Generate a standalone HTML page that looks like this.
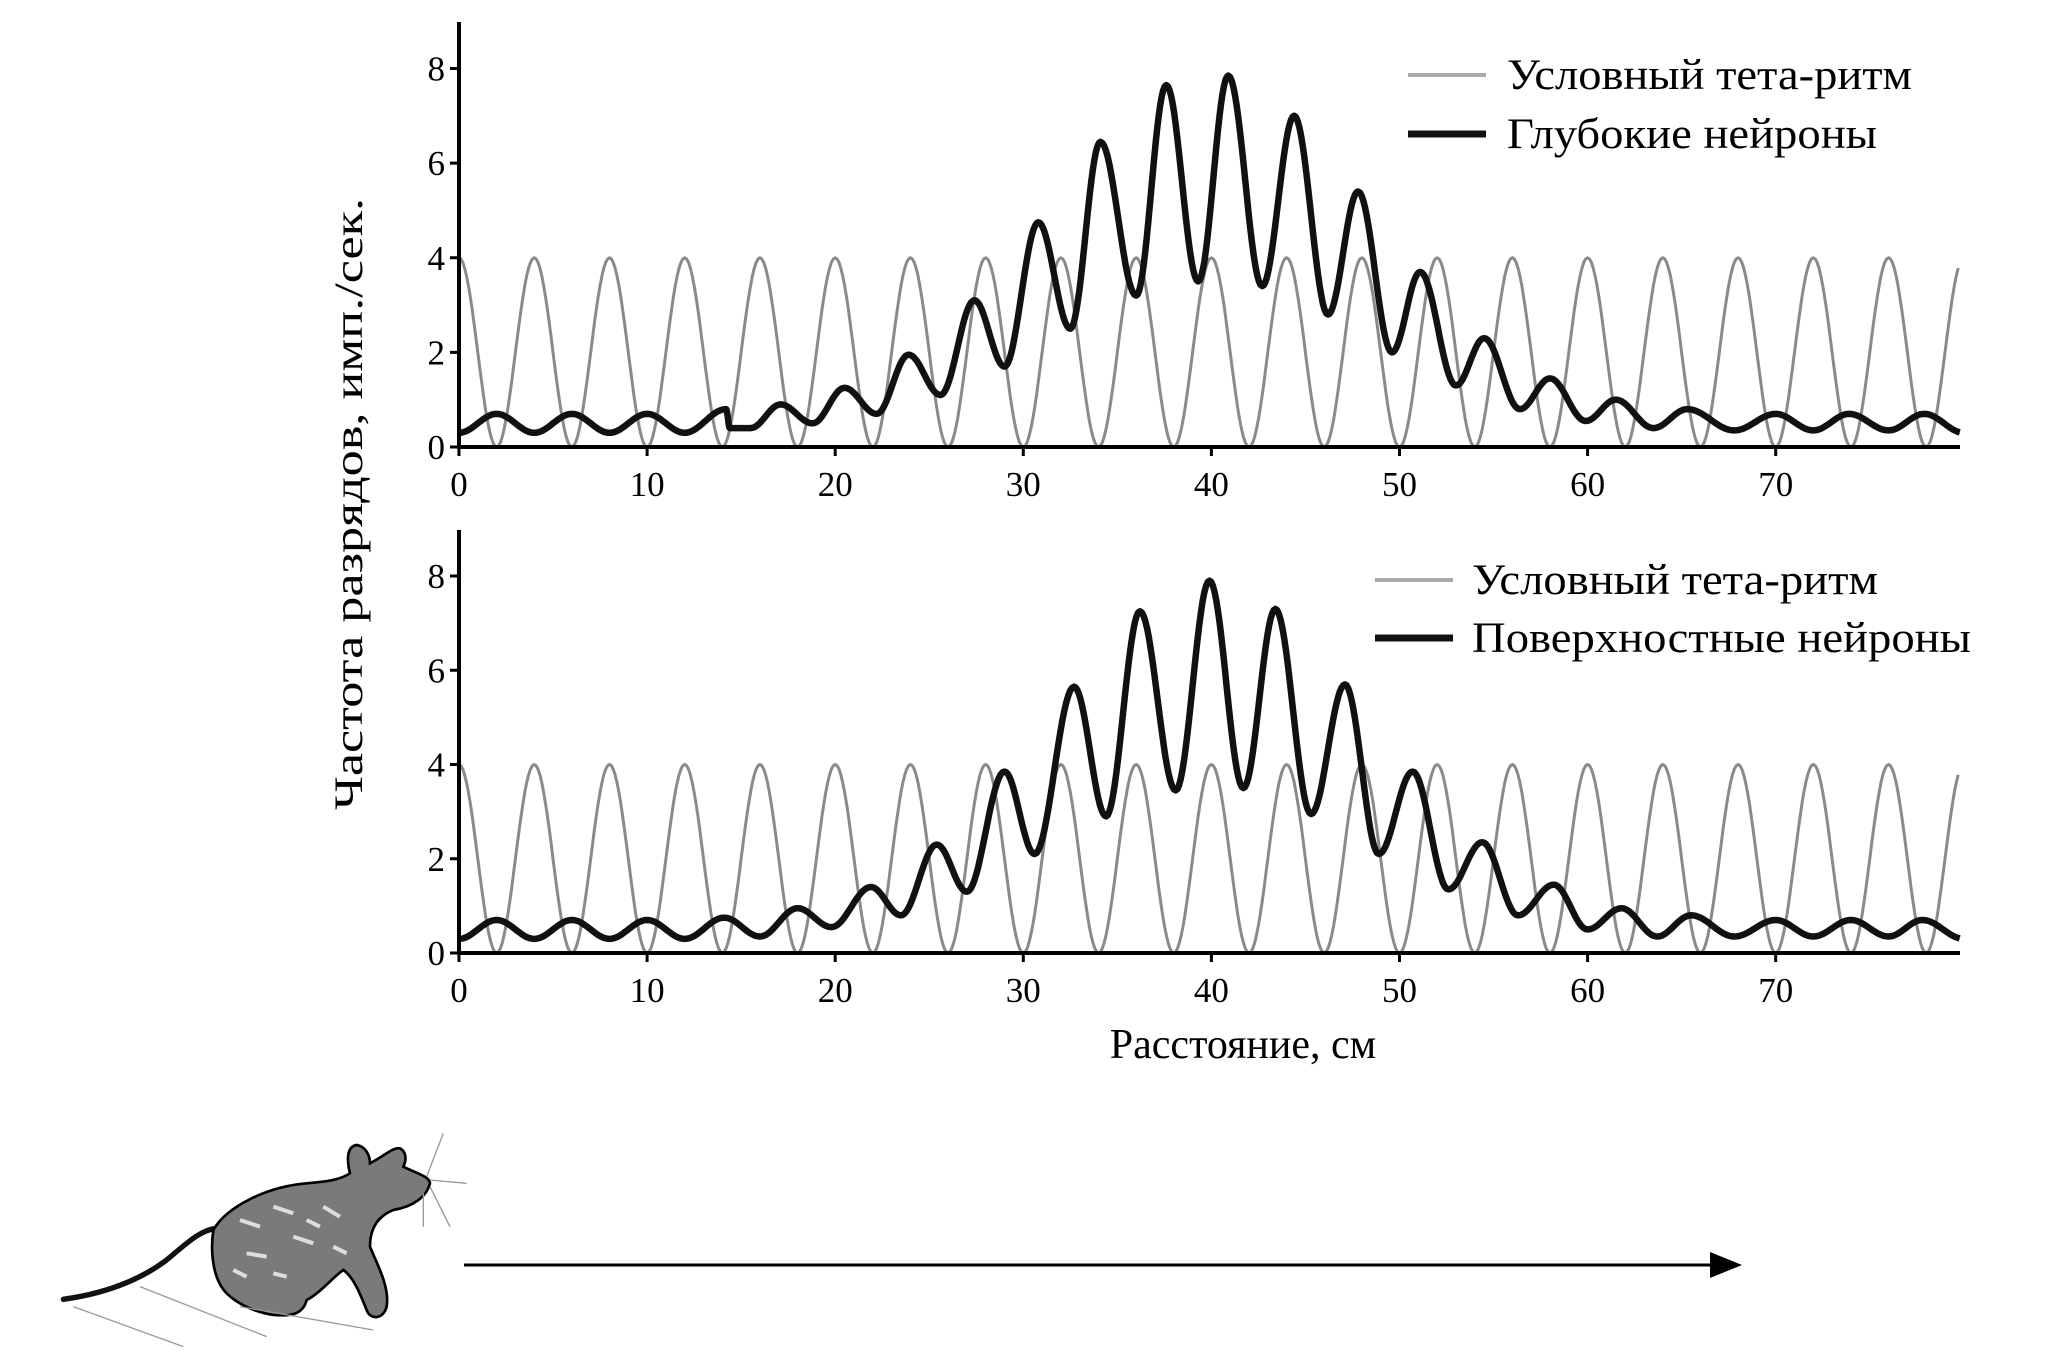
<!DOCTYPE html>
<html><head><meta charset="utf-8"><style>
html,body{margin:0;padding:0;background:#fff;}
svg{display:block;font-family:"Liberation Serif","DejaVu Serif",serif;}
</style></head><body>
<svg id="chart" width="2067" height="1368" viewBox="0 0 2067 1368" xmlns="http://www.w3.org/2000/svg">
<g id="top"></g>
<g id="bot"></g>
<text x="0" y="0" transform="translate(362,504) rotate(-90)" text-anchor="middle" font-size="40" textLength="612" lengthAdjust="spacingAndGlyphs">Частота разрядов, имп./сек.</text>
<text x="1243" y="1058" text-anchor="middle" font-size="42">Расстояние, см</text>
<g>
<line x1="1408" y1="75" x2="1486" y2="75" stroke="#aaa" stroke-width="4"/>
<text x="1507" y="89" font-size="43" textLength="405" lengthAdjust="spacingAndGlyphs">Условный тета-ритм</text>
<line x1="1408" y1="134" x2="1486" y2="134" stroke="#111" stroke-width="7"/>
<text x="1507" y="148" font-size="43" textLength="370" lengthAdjust="spacingAndGlyphs">Глубокие нейроны</text>
</g>
<g>
<line x1="1375" y1="580" x2="1453" y2="580" stroke="#aaa" stroke-width="4"/>
<text x="1472" y="594" font-size="43" textLength="406" lengthAdjust="spacingAndGlyphs">Условный тета-ритм</text>
<line x1="1375" y1="638" x2="1453" y2="638" stroke="#111" stroke-width="7"/>
<text x="1472" y="652" font-size="43" textLength="499" lengthAdjust="spacingAndGlyphs">Поверхностные нейроны</text>
</g>
<g>
<line x1="464" y1="1265" x2="1715" y2="1265" stroke="#000" stroke-width="3"/>
<polygon points="1710,1252 1742,1265 1710,1278" fill="#000"/>
</g>
<g transform="translate(40,1120) scale(0.3333)">
<path d="M70,538 C200,520 300,480 380,420 C440,370 480,330 530,325" fill="none" stroke="#111" stroke-width="16" stroke-linecap="round"/>
<path d="M520,330 C560,260 680,200 800,190 C860,185 900,180 930,160 C920,120 920,80 950,75 C980,80 990,110 990,130 C1030,110 1060,80 1080,85 C1100,95 1100,120 1090,140 C1130,160 1170,170 1170,190 C1160,230 1120,260 1060,270 C1010,290 990,330 990,380 C1010,430 1050,500 1040,560 C1030,600 990,600 980,570 C960,520 940,470 910,450 C880,470 840,520 800,540 C790,580 760,590 700,585 C640,575 590,550 560,520 C520,480 510,400 520,330 Z" fill="#7a7a7a" stroke="#000" stroke-width="8"/>
<path d="M600,300 L660,320 M700,260 L760,280 M620,400 L680,410 M760,350 L820,370 M850,260 L900,290 M700,460 L740,470 M880,380 L920,400 M580,450 L620,470 M800,300 L840,320" stroke="#ddd" stroke-width="12"/>
<g stroke="#999" stroke-width="4"><line x1="1170" y1="180" x2="1280" y2="190"/><line x1="1160" y1="170" x2="1210" y2="40"/><line x1="1170" y1="200" x2="1230" y2="320"/><line x1="1150" y1="220" x2="1150" y2="320"/><line x1="100" y1="560" x2="430" y2="680"/><line x1="300" y1="500" x2="680" y2="650"/><line x1="600" y1="560" x2="1000" y2="630"/></g>
</g>
</svg>
<script>
const thetaPeaks = [0,4,8,12,16,20,24,28,32,36,40,44,48,52,56,60,64,68,72,76,80];
const thetaAmp = [4];
const xTicks = [0,10,20,30,40,50,60,70];
const yTicks = [0,2,4,6,8];
const deepX = [0,2,4,6,8,10,12,14.2,14.4,15.5,17.1,18.8,20.5,22.2,23.9,25.6,27.4,29,30.8,32.5,34.1,36,37.6,39.3,40.9,42.7,44.4,46.2,47.8,49.6,51.1,53,54.5,56.4,58,59.9,61.5,63.5,65.3,67.8,70,72,73.9,76,77.9,80];
const deepY = [0.3,0.7,0.3,0.7,0.3,0.7,0.3,0.8,0.4,0.4,0.9,0.5,1.25,0.7,1.95,1.1,3.1,1.7,4.75,2.5,6.45,3.2,7.65,3.5,7.85,3.4,7.0,2.8,5.4,2.0,3.7,1.3,2.3,0.8,1.45,0.55,1.0,0.4,0.8,0.35,0.7,0.35,0.7,0.35,0.7,0.3];
const supX = [0,2,4,6,8,10,12,14.1,16,18,19.8,21.9,23.5,25.4,27,29,30.6,32.7,34.4,36.2,38.1,39.9,41.7,43.4,45.3,47.1,48.9,50.7,52.6,54.4,56.3,58.2,60,61.8,63.7,65.5,67.8,70,72,74,76,77.8,80];
const supY = [0.3,0.7,0.3,0.7,0.3,0.7,0.3,0.75,0.35,0.95,0.55,1.4,0.8,2.3,1.3,3.85,2.1,5.65,2.9,7.25,3.45,7.9,3.5,7.3,2.95,5.7,2.1,3.85,1.35,2.35,0.8,1.45,0.5,0.95,0.35,0.8,0.35,0.7,0.35,0.7,0.35,0.7,0.3];

const NS='http://www.w3.org/2000/svg';
function mk(tag, attrs, parent){const e=document.createElementNS(NS,tag);for(const k in attrs)e.setAttribute(k,attrs[k]);parent.appendChild(e);return e;}

function panel(g, y0, y8, yTop, xs, ys, name){
  const x0=459, xu=18.81, xEnd=1960;
  const X=v=>x0+v*xu, Y=v=>y0+(y8-y0)*v/8;
  let d='';
  for(let i=0;i<thetaPeaks.length-1;i++){
    const a=thetaPeaks[i], b=thetaPeaks[i+1];
    for(let s=0;s<=40;s++){const t=s/40, x=a+(b-a)*t; if(X(x)>xEnd) break; const v=thetaAmp[0]*(0.5+0.5*Math.cos(2*Math.PI*t));
      d+=(d?'L':'M')+X(x).toFixed(1)+','+Y(v).toFixed(1);}
  }
  const th=mk('path',{d:d,fill:'none',stroke:'#8a8a8a','stroke-width':3},g);
  
  
  let d2='';
  for(let i=0;i<xs.length-1;i++){
    for(let s=0;s<=20;s++){const t=s/20, x=xs[i]+(xs[i+1]-xs[i])*t; if(X(x)>xEnd) break; const w=(1-Math.cos(Math.PI*t))/2, v=ys[i]+(ys[i+1]-ys[i])*w;
      d2+=(d2?'L':'M')+X(x).toFixed(1)+','+Y(v).toFixed(1);}
  }
  const nl=mk('path',{d:d2,fill:'none',stroke:'#111','stroke-width':6.5,'stroke-linejoin':'round'},g);
  
  
  const ax=mk('line',{x1:x0,y1:y0,x2:xEnd,y2:y0,stroke:'#000','stroke-width':4},g);
  
  
  const ay=mk('line',{x1:x0,y1:y0+2,x2:x0,y2:yTop,stroke:'#000','stroke-width':4},g);
  
  
  xTicks.forEach(v=>{
    mk('line',{x1:X(v),y1:y0,x2:X(v),y2:y0+9,stroke:'#000','stroke-width':3},g);
    const t=mk('text',{x:X(v),y:y0+49,'text-anchor':'middle','font-size':35},g);
    t.textContent=v;
    
    
  });
  yTicks.forEach(v=>{
    mk('line',{x1:x0-9,y1:Y(v),x2:x0,y2:Y(v),stroke:'#000','stroke-width':3},g);
    const t=mk('text',{x:x0-14,y:Y(v)+12,'text-anchor':'end','font-size':35},g);
    t.textContent=v;
    
    
  });
}
panel(document.getElementById('top'),447,68.5,22,deepX,deepY,'deep');
panel(document.getElementById('bot'),953,576,530,supX,supY,'superficial');
</script>
</body></html>
